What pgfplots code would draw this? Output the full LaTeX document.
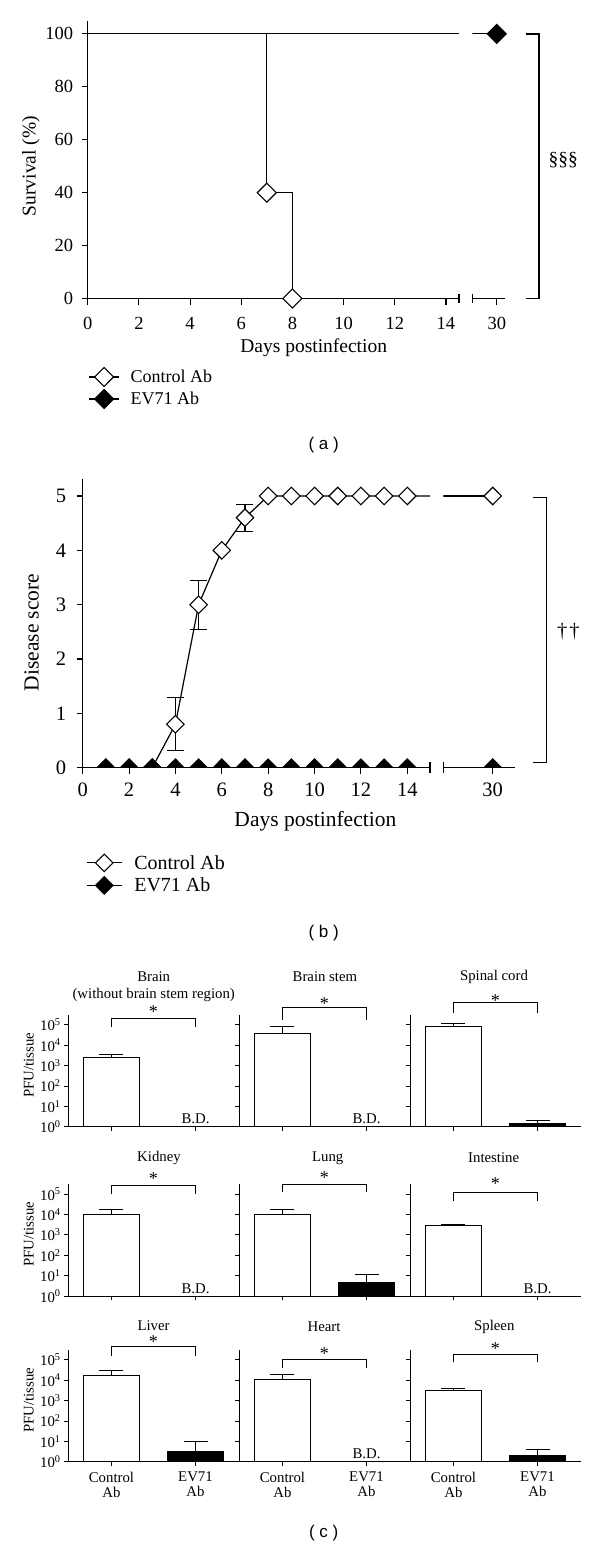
\documentclass[border=0pt]{standalone}
\usepackage{fontspec}
\setmainfont{Liberation Serif}
\newfontfamily\sansf{Liberation Sans}
\usepackage{pgfplots}
\pgfplotsset{compat=1.18}

\newcommand{\fa}{\fontsize{18.5}{21}\selectfont}
\newcommand{\fal}{\fontsize{19.5}{22}\selectfont}
\newcommand{\fleg}{\fontsize{18}{21}\selectfont}
\newcommand{\fb}{\fontsize{20.5}{24}\selectfont}
\newcommand{\fbl}{\fontsize{21.5}{24}\selectfont}
\newcommand{\flegb}{\fontsize{20}{23}\selectfont}
\newcommand{\fc}{\fontsize{14.8}{15}\selectfont}
\newcommand{\fstar}{\fontsize{18}{19}\selectfont}
\newcommand{\fp}{\sansf\fontsize{17}{18}\selectfont}

\pgfplotsset{
  common/.style={scale only axis, anchor=south west,
    axis line style={line width=1.1pt,-}, every tick/.style={black,line width=1.1pt},
    tick align=outside, /pgf/number format/assume math mode=true,
    axis x line*=bottom, axis y line*=left},
  opena/.style={mark=diamond*, mark size=9.5pt, mark options={fill=white, draw=black, xscale=1.33, line width=1.1pt}},
  filla/.style={mark=diamond*, mark size=9.5pt, mark options={fill=black, draw=black, xscale=1.33, line width=1.1pt}},
  openb/.style={mark=diamond*, mark size=8.75pt, mark options={fill=white, draw=black, xscale=1.33, line width=1.1pt}},
  fillb/.style={mark=diamond*, mark size=8.75pt, mark options={fill=black, draw=black, xscale=1.33, line width=1.1pt}},
  cleft/.style={yticklabels={10\textsuperscript{0},10\textsuperscript{1},10\textsuperscript{2},10\textsuperscript{3},10\textsuperscript{4},10\textsuperscript{5}},
    ylabel={PFU/tissue}, ylabel style={at={(axis description cs:-0.23,0.55)}, anchor=center}},
  cnoy/.style={yticklabels={,,,,,}},
  cnox/.style={xticklabels={,}},
  cbot/.style={xticklabels={{Control\\Ab},{EV71\\Ab}}, xticklabel style={align=center, yshift=-2.5pt}},
}

\newcommand{\ctl}[2]{\addplot[ybar, bar shift=0pt, bar width=56pt, fill=white, draw=black, line width=0.9pt] coordinates {(0,#1)};
  \addplot[black, line width=0.9pt, mark=-, mark size=12pt] coordinates {(0,#1)(0,#2)};}
\newcommand{\evb}[2]{\addplot[ybar, bar shift=0pt, bar width=56pt, fill=black, draw=black, line width=0.9pt] coordinates {(1,#1)};
  \addplot[black, line width=0.9pt, mark=-, mark size=12pt] coordinates {(1,#1)(1,#2)};}
\newcommand{\bd}{\node[font=\fc, anchor=south, inner sep=0pt, yshift=2.5pt] at (axis cs:1,1) {B.D.};}
\newcommand{\sig}[3]{\draw[line width=0.9pt] (axis cs:0,#1) -- (axis cs:0,#2) -- (axis cs:1,#2) -- (axis cs:1,#1);
  \node[font=\fstar, inner sep=0pt, yshift=-2.4pt] at (axis cs:0.5,#3) {*};}

\begin{document}
\begin{tikzpicture}
\useasboundingbox (0pt,0pt) rectangle (600pt,-1550pt);

% ---------------- panel (a) ----------------
\begin{axis}[common, at={(87.7pt,-298.5pt)}, width=371.3pt, height=277.8pt,
  xmin=0, xmax=14.51, ymin=0, ymax=105,
  xtick={0,2,4,6,8,10,12,14}, ytick={0,20,40,60,80,100}, major tick length=6pt,
  extra x ticks={14.51}, extra x tick labels={}, extra tick style={major tick length=9pt, tick align=center},
  ticklabel style={font=\fa},
  xticklabel style={yshift=-9pt}, yticklabel style={xshift=-5pt},
  xlabel={Days postinfection}, ylabel={Survival (\%)},
  label style={font=\fal},
  xlabel style={at={(axis description cs:0.6087,-0.177)}, anchor=center},
  ylabel style={at={(axis description cs:-0.1527,0.4765)}, anchor=center},
  legend style={at={(axis description cs:0.0016,-0.2476)}, anchor=north west, draw=none, fill=none,
    font=\fleg, inner sep=0pt, row sep=3pt, nodes={inner sep=1pt},
    /tikz/every odd column/.append style={column sep=10pt}},
  legend cell align=left,
  legend image code/.code={\draw[mark repeat=2,mark phase=2,#1] plot coordinates {(0pt,0pt) (15pt,0pt) (30pt,0pt)};}]
\addlegendimage{black, line width=1.1pt, opena}\addlegendentry{Control Ab}
\addlegendimage{black, line width=1.1pt, filla}\addlegendentry{EV71 Ab}
\addplot[forget plot, black, line width=1.1pt] coordinates {(0,100)(14.51,100)};
\addplot[forget plot, black, line width=1.1pt] coordinates {(0,100)(7,100)(7,40)(8,40)(8,0)(14.51,0)};
\addplot[forget plot, only marks, opena] coordinates {(7,40)(8,0)};
\end{axis}
\begin{axis}[common, at={(472.3pt,-298.5pt)}, width=32.7pt, height=277.8pt,
  xmin=29.05, xmax=30.32, ymin=0, ymax=105, axis y line=none,
  xtick={30}, major tick length=6pt,
  extra x ticks={29.05}, extra x tick labels={}, extra tick style={major tick length=9pt, tick align=center},
  ticklabel style={font=\fa}, xticklabel style={yshift=-9pt}]
\addplot[black, line width=1.1pt] coordinates {(29.05,100)(30,100)};
\addplot[only marks, filla] coordinates {(30,100)};
\end{axis}
\draw[line width=1.1pt] (526pt,-34pt) -- (539pt,-34pt) -- (539pt,-298.3pt) -- (526pt,-298.3pt);
\node[font=\fal] at (563.3pt,-160pt) {§§§};
\node[font=\fp] at (323.7pt,-445pt) {( a )};

% ---------------- panel (b) ----------------
\begin{axis}[common, at={(82.7pt,-767.7pt)}, width=347.3pt, height=288.4pt,
  xmin=0, xmax=14.98, ymin=0, ymax=5.307,
  xtick={0,2,4,6,8,10,12,14}, ytick={0,1,2,3,4,5},
  extra x ticks={14.98}, extra x tick labels={}, extra tick style={major tick length=11pt, tick align=center},
  major tick length=6pt, clip marker paths=true,
  ticklabel style={font=\fb},
  xticklabel style={yshift=-6pt}, yticklabel style={xshift=-7pt},
  xlabel={Days postinfection}, ylabel={Disease score},
  label style={font=\fbl},
  xlabel style={at={(axis description cs:0.670,-0.185)}, anchor=center},
  ylabel style={at={(axis description cs:-0.147,0.469)}, anchor=center},
  legend style={at={(axis description cs:0.0095,-0.299)}, anchor=north west, draw=none, fill=none,
    font=\flegb, inner sep=0pt, row sep=5pt, nodes={inner sep=1pt},
    /tikz/every odd column/.append style={column sep=11pt}},
  legend cell align=left,
  legend image code/.code={\draw[mark repeat=2,mark phase=2,#1] plot coordinates {(0pt,0pt) (17.5pt,0pt) (35pt,0pt)};}]
\addlegendimage{black, line width=1.1pt, openb}\addlegendentry{Control Ab}
\addlegendimage{black, line width=1.1pt, fillb}\addlegendentry{EV71 Ab}
\addplot[forget plot, black, line width=1.2pt] coordinates {(1,0)(14,0)(14.98,0)};
\addplot[forget plot, black, line width=1.2pt] coordinates {(1,0)(2,0)(3,0)(4,0.8)(5,3)(6,4)(7,4.6)(8,5)(9,5)(10,5)(11,5)(12,5)(13,5)(14,5)(14.98,5)};
\addplot[forget plot, black, line width=1.1pt, mark=-, mark size=8.5pt, unbounded coords=jump]
  coordinates {(4,0.31)(4,1.29)(4,nan)(5,2.55)(5,3.45)(5,nan)(7,4.35)(7,4.84)};
\addplot[forget plot, only marks, openb] coordinates {(1,0)(2,0)(3,0)(4,0.8)(5,3)(6,4)(7,4.6)(8,5)(9,5)(10,5)(11,5)(12,5)(13,5)(14,5)};
\addplot[forget plot, only marks, fillb] coordinates {(1,0)(2,0)(3,0)(4,0)(5,0)(6,0)(7,0)(8,0)(9,0)(10,0)(11,0)(12,0)(13,0)(14,0)};
\end{axis}
\begin{axis}[common, at={(443.3pt,-767.7pt)}, width=71.7pt, height=288.4pt,
  xmin=27.87, xmax=30.96, ymin=0, ymax=5.307, axis y line=none,
  xtick={30}, extra x ticks={27.87}, extra x tick labels={}, extra tick style={major tick length=11pt, tick align=center},
  major tick length=6pt, clip marker paths=true,
  ticklabel style={font=\fb}, xticklabel style={yshift=-6pt}]
\addplot[black, line width=1.2pt] coordinates {(27.87,5)(30,5)};
\addplot[black, line width=1.2pt] coordinates {(27.87,0)(30,0)};
\addplot[only marks, openb] coordinates {(30,5)};
\addplot[only marks, fillb] coordinates {(30,0)};
\end{axis}
\draw[line width=1.1pt] (532.7pt,-497.3pt) -- (546.7pt,-497.3pt) -- (546.7pt,-762.7pt) -- (532.7pt,-762.7pt);
\node[font=\fb] at (568.3pt,-631.7pt) {†\hspace{2pt}†};
\node[font=\fp] at (323.7pt,-933pt) {( b )};

% ---------------- panel (c) ----------------
% row 1
\begin{axis}[scale only axis, anchor=south west, width=171pt, height=112pt,
    xmin=-0.515, xmax=1.52, ymode=log, ymin=1, ymax=316228,
    axis x line*=bottom, axis y line*=left,
    axis line style={line width=0.9pt,-}, every tick/.style={black,line width=0.9pt},
    tick align=outside, major tick length=4pt, yminorticks=false,
    xtick={0,1}, ytick={1,10,100,1000,10000,100000}, clip=false,
    ticklabel style={font=\fc}, label style={font=\fc}, cleft, cnox, at={(68.2pt,-1126.7pt)}]
\ctl{2500}{3700} \bd
\sig{79433}{199526}{616595}
\end{axis}
\begin{axis}[scale only axis, anchor=south west, width=171pt, height=112pt,
    xmin=-0.515, xmax=1.52, ymode=log, ymin=1, ymax=316228,
    axis x line*=bottom, axis y line*=left,
    axis line style={line width=0.9pt,-}, every tick/.style={black,line width=0.9pt},
    tick align=outside, major tick length=4pt, yminorticks=false,
    xtick={0,1}, ytick={1,10,100,1000,10000,100000}, clip=false,
    ticklabel style={font=\fc}, label style={font=\fc}, cnoy, cnox, at={(239.2pt,-1126.7pt)}]
\ctl{40000}{80000} \bd
\sig{177828}{691831}{1412538}
\end{axis}
\begin{axis}[scale only axis, anchor=south west, width=171pt, height=112pt,
    xmin=-0.515, xmax=1.52, ymode=log, ymin=1, ymax=316228,
    axis x line*=bottom, axis y line*=left,
    axis line style={line width=0.9pt,-}, every tick/.style={black,line width=0.9pt},
    tick align=outside, major tick length=4pt, yminorticks=false,
    xtick={0,1}, ytick={1,10,100,1000,10000,100000}, clip=false,
    ticklabel style={font=\fc}, label style={font=\fc}, cnoy, cnox, at={(410.2pt,-1126.7pt)}]
\ctl{85000}{115000} \evb{1.4}{2.1}
\sig{371535}{1202264}{2137962}
\end{axis}
% row 2
\begin{axis}[scale only axis, anchor=south west, width=171pt, height=112pt,
    xmin=-0.515, xmax=1.52, ymode=log, ymin=1, ymax=316228,
    axis x line*=bottom, axis y line*=left,
    axis line style={line width=0.9pt,-}, every tick/.style={black,line width=0.9pt},
    tick align=outside, major tick length=4pt, yminorticks=false,
    xtick={0,1}, ytick={1,10,100,1000,10000,100000}, clip=false,
    ticklabel style={font=\fc}, label style={font=\fc}, cleft, cnox, at={(68.2pt,-1296pt)}]
\ctl{10500}{17000} \bd
\sig{102329}{281838}{794328}
\end{axis}
\begin{axis}[scale only axis, anchor=south west, width=171pt, height=112pt,
    xmin=-0.515, xmax=1.52, ymode=log, ymin=1, ymax=316228,
    axis x line*=bottom, axis y line*=left,
    axis line style={line width=0.9pt,-}, every tick/.style={black,line width=0.9pt},
    tick align=outside, major tick length=4pt, yminorticks=false,
    xtick={0,1}, ytick={1,10,100,1000,10000,100000}, clip=false,
    ticklabel style={font=\fc}, label style={font=\fc}, cnoy, cnox, at={(239.2pt,-1296pt)}]
\ctl{10000}{17500} \evb{4.8}{12}
\sig{123027}{316228}{891251}
\end{axis}
\begin{axis}[scale only axis, anchor=south west, width=171pt, height=112pt,
    xmin=-0.515, xmax=1.52, ymode=log, ymin=1, ymax=316228,
    axis x line*=bottom, axis y line*=left,
    axis line style={line width=0.9pt,-}, every tick/.style={black,line width=0.9pt},
    tick align=outside, major tick length=4pt, yminorticks=false,
    xtick={0,1}, ytick={1,10,100,1000,10000,100000}, clip=false,
    ticklabel style={font=\fc}, label style={font=\fc}, cnoy, cnox, at={(410.2pt,-1296pt)}]
\ctl{2900}{3400} \bd
\sig{47863}{123027}{457088}
\end{axis}
% row 3
\begin{axis}[scale only axis, anchor=south west, width=171pt, height=112pt,
    xmin=-0.515, xmax=1.52, ymode=log, ymin=1, ymax=316228,
    axis x line*=bottom, axis y line*=left,
    axis line style={line width=0.9pt,-}, every tick/.style={black,line width=0.9pt},
    tick align=outside, major tick length=4pt, yminorticks=false,
    xtick={0,1}, ytick={1,10,100,1000,10000,100000}, clip=false,
    ticklabel style={font=\fc}, label style={font=\fc}, cleft, cbot, at={(68.2pt,-1461.7pt)}]
\ctl{16500}{30000} \evb{3.2}{10}
\sig{162181}{446684}{1071519}
\end{axis}
\begin{axis}[scale only axis, anchor=south west, width=171pt, height=112pt,
    xmin=-0.515, xmax=1.52, ymode=log, ymin=1, ymax=316228,
    axis x line*=bottom, axis y line*=left,
    axis line style={line width=0.9pt,-}, every tick/.style={black,line width=0.9pt},
    tick align=outside, major tick length=4pt, yminorticks=false,
    xtick={0,1}, ytick={1,10,100,1000,10000,100000}, clip=false,
    ticklabel style={font=\fc}, label style={font=\fc}, cnoy, cbot, at={(239.2pt,-1461.7pt)}]
\ctl{11000}{20000} \bd
\sig{40738}{100000}{281838}
\end{axis}
\begin{axis}[scale only axis, anchor=south west, width=171pt, height=112pt,
    xmin=-0.515, xmax=1.52, ymode=log, ymin=1, ymax=316228,
    axis x line*=bottom, axis y line*=left,
    axis line style={line width=0.9pt,-}, every tick/.style={black,line width=0.9pt},
    tick align=outside, major tick length=4pt, yminorticks=false,
    xtick={0,1}, ytick={1,10,100,1000,10000,100000}, clip=false,
    ticklabel style={font=\fc}, label style={font=\fc}, cnoy, cbot, at={(410.2pt,-1461.7pt)}]
\ctl{3300}{4000} \evb{2.1}{4.2}
\sig{75858}{186209}{446684}
\end{axis}

\node[font=\fc] at (153.7pt,-976.7pt) {Brain};
\node[font=\fc] at (153.7pt,-995pt) {(without brain stem region)};
\node[font=\fc] at (324.9pt,-977pt) {Brain stem};
\node[font=\fc] at (494pt,-977pt) {Spinal cord};
\node[font=\fc] at (159pt,-1158pt) {Kidney};
\node[font=\fc] at (327.7pt,-1158pt) {Lung};
\node[font=\fc] at (493.7pt,-1158pt) {Intestine};
\node[font=\fc] at (153.6pt,-1325.5pt) {Liver};
\node[font=\fc] at (324pt,-1326.7pt) {Heart};
\node[font=\fc] at (494.3pt,-1326.7pt) {Spleen};
\node[font=\fp] at (323.7pt,-1533pt) {( c )};
\end{tikzpicture}
\end{document}
